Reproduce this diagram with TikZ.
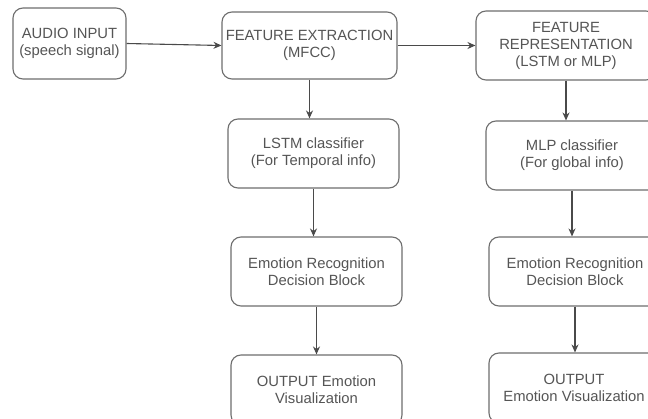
\documentclass[tikz,border=0pt]{standalone}
\usepackage{fontspec}
\setmainfont{Liberation Sans}
\usetikzlibrary{arrows.meta}
\definecolor{boxline}{HTML}{6E6E6E}
\definecolor{boxtext}{HTML}{555555}
\definecolor{arrline}{HTML}{4A4A4A}
\tikzset{
  blk/.style={draw=boxline, line width=1.1pt, rounded corners=10pt, inner sep=0pt,
    align=center, text=boxtext, font=\fontsize{14.8}{17}\selectfont},
  arr/.style={draw=arrline, line width=1.1pt, -{Stealth[length=8pt,width=7pt]}}
}
\begin{document}
\begin{tikzpicture}[x=1pt,y=-1pt]
\fill[white] (0,0) rectangle (648,419);
\useasboundingbox (0,0) rectangle (648,419);
\node[blk, minimum width=113pt, minimum height=71pt] (audio) at (69.5,43.5) {AUDIO INPUT\\(speech signal)};
\node[blk, minimum width=175pt, minimum height=67pt] (fe) at (309.5,45.5) {FEATURE EXTRACTION\\(MFCC)};
\node[blk, minimum width=180pt, minimum height=69pt] (fr) at (566,45.5) {FEATURE\\REPRESENTATION\\(LSTM or MLP)};
\node[blk, minimum width=171pt, minimum height=69pt] (lstm) at (313.5,153.5) {LSTM classifier\\(For Temporal info)};
\node[blk, minimum width=172pt, minimum height=69pt] (mlp) at (572,155.5) {MLP classifier\\(For global info)};
\node[blk, minimum width=171pt, minimum height=69pt] (erl) at (316.5,271.5) {Emotion Recognition\\Decision Block};
\node[blk, minimum width=172pt, minimum height=69pt] (err) at (575,271.5) {Emotion Recognition\\Decision Block};
\node[blk, minimum width=171pt, minimum height=70pt] (outl) at (316.5,390) {OUTPUT Emotion\\Visualization};
\node[blk, minimum width=170pt, minimum height=70pt] (outr) at (574,388) {OUTPUT\\Emotion Visualization};
\draw[arr] (audio.east) -- (fe.west);
\draw[arr] (fe.east) -- (fr.west);
\draw[arr] (fe.south) -- (fe.south |- lstm.north);
\draw[arr] (lstm.south) -- (lstm.south |- erl.north);
\draw[arr] (erl.south) -- (erl.south |- outl.north);
\draw[arr] (fr.south) -- (fr.south |- mlp.north);
\draw[arr] (mlp.south) -- (mlp.south |- err.north);
\draw[arr] (err.south) -- (err.south |- outr.north);
\end{tikzpicture}
\end{document}
